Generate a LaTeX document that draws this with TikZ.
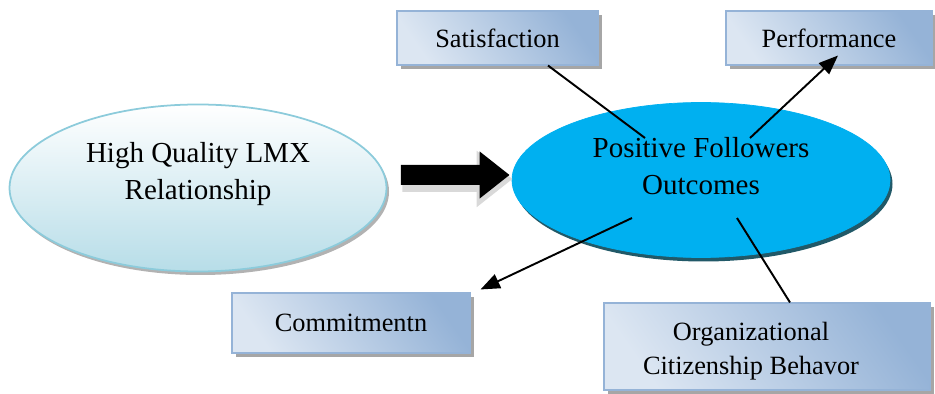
\documentclass[tikz,border=0pt]{standalone}
\usepackage{fontspec}
\setmainfont{Liberation Serif}
\usetikzlibrary{arrows.meta,calc,shadows,shapes.geometric}

\definecolor{boxlight}{HTML}{DCE6F2}
\definecolor{boxdark}{HTML}{95B3D7}
\definecolor{lmxedge}{HTML}{8CCBDB}
\definecolor{lmxblue}{HTML}{B7DDE8}
\definecolor{pfoblue}{HTML}{00B0F0}
\definecolor{pfoshade}{HTML}{215968}

\begin{document}
\begin{tikzpicture}[
    every node/.style={align=center},
    oval/.style={ellipse, inner sep=0pt, font=\fontsize{16.5}{21}\selectfont},
    box/.style={rectangle, draw=boxdark, line width=0.6pt,
        top color=boxdark, middle color=boxlight!90!white, bottom color=boxlight,
        shading angle=-55,
        font=\fontsize{15}{19.4}\selectfont,
        drop shadow={shadow xshift=0.07cm, shadow yshift=-0.09cm,
            fill=gray!70, opacity=1}},
    link/.style={line width=1.1pt},
    tip/.style={link, -{Triangle[length=11pt,width=8.5pt]}}
]
\useasboundingbox (0,0) rectangle (18.7,7.88);

% the two ovals
\node[oval, minimum width=7.54cm, minimum height=3.34cm, text depth=0.7cm,
      draw=lmxedge, line width=1pt, top color=white, bottom color=lmxblue,
      drop shadow={shadow xshift=0.05cm, shadow yshift=-0.07cm, fill=gray!60, opacity=1}]
      (LMX) at (3.96,4.12) {High Quality LMX\\Relationship};
\node[oval, minimum width=7.56cm, minimum height=3.1cm, text depth=0.55cm,
      fill=pfoblue, draw=pfoblue,
      drop shadow={shadow xshift=0.05cm, shadow yshift=-0.08cm, fill=pfoshade, opacity=1}]
      (PFO) at (14.02,4.28) {Positive Followers\\Outcomes};

% block arrow between them
\draw[gray!30, line width=0.52cm, -{Triangle[length=0.72cm,width=1.08cm]}]
    ($(LMX.east)+(0.3,0.18)$) -- ($(PFO.west)+(0.02,0.02)$);
\draw[line width=0.4cm, -{Triangle[length=0.6cm,width=0.9cm]}]
    ($(LMX.east)+(0.27,0.26)$) -- ($(PFO.west)+(-0.04,0.1)$);

% outcome boxes
\node[box, minimum width=4.02cm, minimum height=1.08cm] (Sat) at (9.95,7.12) {Satisfaction};
\node[box, minimum width=4.12cm, minimum height=1.08cm] (Perf) at (16.58,7.12) {Performance};
\node[box, minimum width=4.76cm, minimum height=1.2cm] (Com) at (7.02,1.42) {Commitmentn};
\node[box, minimum width=6.52cm, minimum height=1.74cm] (OCB) at (15.34,0.95)
    {\rule{0pt}{0.57cm}Organizational\hspace*{0.64cm}\\Citizenship Behavor\hspace*{0.64cm}};

% links out of the right oval
\coordinate (p1) at (12.9,5.12);
\coordinate (p2) at (15.0,5.12);
\coordinate (p3) at (12.64,3.52);
\coordinate (p4) at (14.74,3.52);

\draw[link] (p1) -- ($(Sat.south)+(1.01,0)$);
\draw[tip] (p2) -- ($(Perf.south)+(0.18,0.2)$);
\draw[tip] (p3) -- ($(Com.north east)+(0.2,0.06)$);
\draw[link] (p4) -- ($(OCB.north)+(0.46,0)$);
\end{tikzpicture}
\end{document}
